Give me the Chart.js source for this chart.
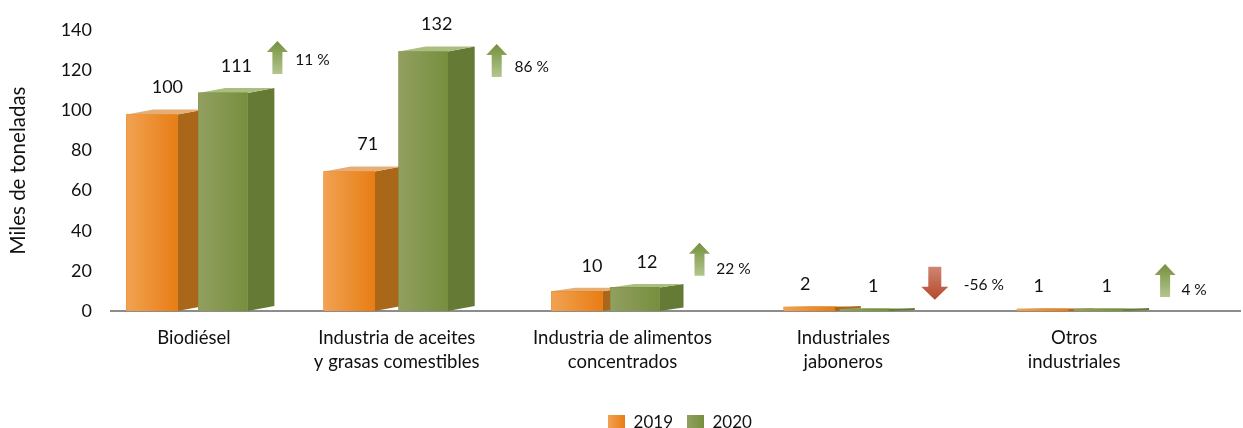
<!DOCTYPE html>
<html>
<head>
<meta charset="utf-8">
<style>
  html, body { margin: 0; background: #fff; }
  #wrap { width: 1243px; height: 428px; }
</style>
<script src="https://cdn.jsdelivr.net/npm/chart.js@4"></script>
</head>
<body>
<div id="wrap"><canvas id="grafico"></canvas></div>
<script>
const categorias = [
  "Biodiésel",
  ["Industria de aceites", "y grasas comestibles"],
  ["Industria de alimentos", "concentrados"],
  ["Industriales", "jaboneros"],
  ["Otros", "industriales"]
];
const valores2019 = [100, 71, 10, 2, 1];
const valores2020 = [111, 132, 12, 1, 1];
const variacion = ["11 %", "86 %", "22 %", "-56 %", "4 %"];
const ticksY = [0, 20, 40, 60, 80, 100, 120, 140];

// perspectiva del 3D original: las categorias no caen a intervalos regulares
const ajusteGrupo = [-37, -64, -70, -65, -57];
const ajusteTexto = [-30, -53, -53, -58, -53];
const separacion = [71, 74, 58, 55, 56];
const fondo3d = [27, 27, 24, 26, 26];
const alto3d = [5, 5, 3.5, 1, 1];
const ajusteEtiqueta2019 = [2, 5, 3, -17, -17];
const ajusteEtiqueta2020 = [0, 0, 0, -4, -5];

// flechas de variacion: dx desde la cara lateral, y en unidades del eje
const flechaDx = [3, 22, 16, 20, 16];
const flechaY = [134.5, 133, 34, 22, 23.4];
const textoDx = [35, 35, 34, 49, 29];
const textoDy = [19, 23, 26, 18, 26];

const FUENTE = "Lato, 'Open Sans', sans-serif";
const TINTA = "#111111";

const tonos = [
  { claro: "#f1a252", fuerte: "#e87d14", lado: "#ab6719", tapa: "#e4ae74" },
  { claro: "#929f60", fuerte: "#768f3e", lado: "#647a35", tapa: "#a9be7f" }
];

function cuadroLeyenda(t) {
  const c = document.createElement("canvas");
  c.width = 17;
  c.height = 16;
  const g = c.getContext("2d");
  const grad = g.createLinearGradient(0, 0, 17, 0);
  grad.addColorStop(0, t.claro);
  grad.addColorStop(1, t.fuerte);
  g.fillStyle = grad;
  g.fillRect(0, 0, 17, 16);
  return c;
}

const caras3d = {
  id: "caras3d",
  afterLayout(chart) {
    chart.legend.left += 60;
    chart.legend.right += 60;
    chart.legend.top += 13;
    chart.legend.bottom += 13;
    chart.scales.x.getLabelItems().forEach((it, i) => {
      it.options.translation[0] += ajusteTexto[i];
    });
  },
  afterDatasetsUpdate(chart) {
    const a = chart.getDatasetMeta(0).data;
    const b = chart.getDatasetMeta(1).data;
    a.forEach((barra, i) => {
      const centro = (barra.x + b[i].x) / 2 + ajusteGrupo[i];
      barra.x = centro - separacion[i] / 2;
      b[i].x = centro + separacion[i] / 2;
    });
  },
  beforeDatasetDraw(chart, args) {
    const ctx = chart.ctx;
    const t = tonos[args.index];
    args.meta.data.forEach((barra, i) => {
      const der = barra.x + barra.width / 2;
      const izq = barra.x - barra.width / 2;
      const f = fondo3d[i];
      const h = alto3d[i];
      ctx.fillStyle = t.lado;
      ctx.beginPath();
      ctx.moveTo(der, barra.y);
      ctx.lineTo(der + f, barra.y - h);
      ctx.lineTo(der + f, barra.base - h);
      ctx.lineTo(der, barra.base);
      ctx.closePath();
      ctx.fill();
      ctx.fillStyle = t.tapa;
      ctx.beginPath();
      ctx.moveTo(izq, barra.y);
      ctx.lineTo(izq + f, barra.y - h);
      ctx.lineTo(der + f, barra.y - h);
      ctx.lineTo(der, barra.y);
      ctx.closePath();
      ctx.fill();
    });
  },
  afterDatasetDraw(chart, args) {
    const ctx = chart.ctx;
    const t = tonos[args.index];
    args.meta.data.forEach((barra) => {
      const izq = barra.x - barra.width / 2;
      const g = ctx.createLinearGradient(izq, 0, izq + barra.width, 0);
      g.addColorStop(0, t.claro);
      g.addColorStop(1, t.fuerte);
      ctx.fillStyle = g;
      ctx.fillRect(izq, barra.y, barra.width, barra.base - barra.y);
    });
  },
  afterDatasetsDraw(chart) {
    const ctx = chart.ctx;
    const ejeY = chart.scales.y;
    const base = ejeY.getPixelForValue(0);

    // etiquetas de valor
    ctx.fillStyle = TINTA;
    ctx.font = "18px " + FUENTE;
    ctx.textAlign = "center";
    ctx.textBaseline = "middle";
    [ajusteEtiqueta2019, ajusteEtiqueta2020].forEach((ajuste, d) => {
      chart.getDatasetMeta(d).data.forEach((barra, i) => {
        const y = Math.min(barra.y - alto3d[i] - 22, base - 19);
        ctx.fillText(chart.data.datasets[d].data[i], barra.x + fondo3d[i] / 2 + ajuste[i], y);
      });
    });

    // flechas y porcentajes
    const verdes = chart.getDatasetMeta(1).data;
    verdes.forEach((barra, i) => {
      const x = barra.x + barra.width / 2 + fondo3d[i] + flechaDx[i];
      const arriba = ejeY.getPixelForValue(flechaY[i]);
      dibujaFlecha(ctx, x, arriba, 33, variacion[i].startsWith("-"));
      ctx.fillStyle = TINTA;
      ctx.font = "15.5px " + FUENTE;
      ctx.fillText(variacion[i], x + textoDx[i], arriba + textoDy[i]);
    });
  }
};

function dibujaFlecha(ctx, x, y, largo, baja) {
  const ancho = baja ? 27 : 21;
  const cuerpo = baja ? 13 : 10;
  const punta = baja ? 13 : 11;
  const g = ctx.createLinearGradient(0, y, 0, y + largo);
  g.addColorStop(0, baja ? "#cf8672" : "#74903d");
  g.addColorStop(1, baja ? "#b4482a" : "#b3c68e");
  ctx.fillStyle = g;
  ctx.beginPath();
  if (baja) {
    ctx.moveTo(x - cuerpo / 2, y);
    ctx.lineTo(x + cuerpo / 2, y);
    ctx.lineTo(x + cuerpo / 2, y + largo - punta);
    ctx.lineTo(x + ancho / 2, y + largo - punta);
    ctx.lineTo(x, y + largo);
    ctx.lineTo(x - ancho / 2, y + largo - punta);
    ctx.lineTo(x - cuerpo / 2, y + largo - punta);
  } else {
    ctx.moveTo(x, y);
    ctx.lineTo(x + ancho / 2, y + punta);
    ctx.lineTo(x + cuerpo / 2, y + punta);
    ctx.lineTo(x + cuerpo / 2, y + largo);
    ctx.lineTo(x - cuerpo / 2, y + largo);
    ctx.lineTo(x - cuerpo / 2, y + punta);
    ctx.lineTo(x - ancho / 2, y + punta);
  }
  ctx.closePath();
  ctx.fill();
}

new Chart(document.getElementById("grafico"), {
  type: "bar",
  data: {
    labels: categorias,
    datasets: [
      { label: "2019", data: valores2019, order: 2, yAxisID: "yBarras", backgroundColor: tonos[0].fuerte, barThickness: 51 },
      { label: "2020", data: valores2020, order: 1, yAxisID: "yBarras", backgroundColor: tonos[1].fuerte, barThickness: 49 }
    ]
  },
  options: {
    responsive: true,
    maintainAspectRatio: false,
    animation: false,
    layout: { padding: { top: 30, right: 3, left: 0, bottom: 0 } },
    plugins: {
      tooltip: { enabled: false },
      legend: {
        position: "bottom",
        labels: {
          usePointStyle: true,
          padding: 14,
          color: TINTA,
          font: { family: FUENTE, size: 17 },
          generateLabels: (chart) => chart.data.datasets.map((d, i) => ({
            text: d.label,
            pointStyle: cuadroLeyenda(tonos[i]),
            datasetIndex: i,
            fontColor: TINTA,
            lineWidth: 0
          }))
        }
      }
    },
    scales: {
      x: {
        grid: { display: false },
        border: { display: true, color: "#8c8c8c", width: 2 },
        afterFit: (s) => { s.height = 76; },
        ticks: {
          padding: 7,
          maxRotation: 0,
          autoSkip: false,
          color: TINTA,
          font: { family: FUENTE, size: 18.5, lineHeight: 1.3 }
        }
      },
      y: {
        min: 0,
        max: 140,
        afterFit: (s) => { s.width = 111; },
        afterBuildTicks: (s) => { s.ticks = ticksY.map((v) => ({ value: v })); },
        grid: { display: false, drawTicks: false },
        border: { display: false },
        title: {
          display: true,
          text: "Miles de toneladas",
          color: TINTA,
          font: { family: FUENTE, size: 20.5 },
          padding: { top: 6, bottom: 0 }
        },
        ticks: { padding: 19, color: TINTA, font: { family: FUENTE, size: 18 } }
      },
      // la cara frontal del 3D queda algo por debajo del valor rotulado
      yBarras: { display: false, min: 0, max: 143 }
    }
  },
  plugins: [caras3d]
});
</script>
</body>
</html>
